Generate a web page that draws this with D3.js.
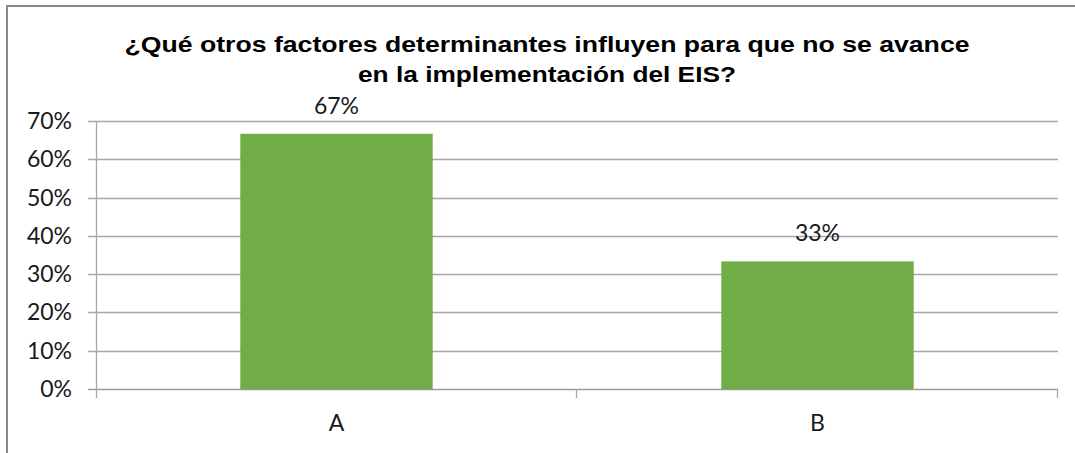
<!DOCTYPE html>
<html>
<head>
  <meta charset="utf-8">
  <script src="https://cdn.jsdelivr.net/npm/d3@7"></script>
  <style>
    body { margin: 0; background: #fff; }
    svg { display: block; }
  </style>
</head>
<body>
<script>
  // chart data
  var categories = ["A", "B"];
  var values = [0.6667, 0.3333];
  var valueLabels = ["67%", "33%"];
  var yTicks = [0, 0.1, 0.2, 0.3, 0.4, 0.5, 0.6, 0.7];
  var titleLines = ["¿Qué otros factores determinantes influyen para que no se avance",
                    "en la implementación del EIS?"];

  var W = 1075, H = 453;
  var plotLeft = 96, plotRight = 1058, plotTop = 121, plotBottom = 389;
  var labelFont = "Lato, 'Open Sans', sans-serif";

  var svg = d3.select("body").append("svg")
      .attr("width", W)
      .attr("height", H);

  // chart border (runs off the right / bottom of the picture)
  svg.append("rect")
      .attr("x", 7).attr("y", 6)
      .attr("width", W + 20).attr("height", H + 20)
      .attr("fill", "none")
      .attr("stroke", "#898989")
      .attr("stroke-width", 2);

  var x = d3.scaleBand().domain(categories).range([plotLeft, plotRight]).paddingInner(0).paddingOuter(0);
  var y = d3.scaleLinear().domain([0, 0.7]).range([plotBottom, plotTop]);

  // gridlines
  svg.append("g").selectAll("line")
      .data(yTicks)
      .enter().append("line")
      .attr("x1", plotLeft - 8).attr("x2", plotRight)
      .attr("y1", function (d) { return Math.round(y(d)) + 0.5; })
      .attr("y2", function (d) { return Math.round(y(d)) + 0.5; })
      .attr("stroke", function (d) { return d === 0 ? "#9a9a9a" : "#a6a6a6"; })
      .attr("stroke-width", 1.3);

  // y axis line
  svg.append("line")
      .attr("x1", plotLeft + 0.5).attr("x2", plotLeft + 0.5)
      .attr("y1", plotTop).attr("y2", plotBottom + 9)
      .attr("stroke", "#a6a6a6").attr("stroke-width", 1.3);

  // x category boundary ticks
  svg.append("g").selectAll("line")
      .data(categories)
      .enter().append("line")
      .attr("x1", function (d) { return Math.round(x(d) + x.bandwidth()) - 0.5; })
      .attr("x2", function (d) { return Math.round(x(d) + x.bandwidth()) - 0.5; })
      .attr("y1", plotBottom).attr("y2", plotBottom + 9)
      .attr("stroke", "#a6a6a6").attr("stroke-width", 1.3);

  // y tick labels
  svg.append("g").selectAll("text")
      .data(yTicks)
      .enter().append("text")
      .attr("x", 72)
      .attr("y", function (d) { return y(d) + 8; })
      .attr("text-anchor", "end")
      .style("font-family", labelFont)
      .style("font-size", "23px")
      .attr("fill", "#1a1a1a")
      .text(function (d) { return Math.round(d * 100) + "%"; });

  // bars
  var barW = x.bandwidth() * 0.4;
  svg.append("g").selectAll("rect")
      .data(values)
      .enter().append("rect")
      .attr("x", function (d, i) { return x(categories[i]) + (x.bandwidth() - barW) / 2; })
      .attr("y", function (d) { return y(d); })
      .attr("width", barW)
      .attr("height", function (d) { return plotBottom - y(d); })
      .attr("fill", "#70ad47");

  // value labels
  svg.append("g").selectAll("text")
      .data(values)
      .enter().append("text")
      .attr("x", function (d, i) { return x(categories[i]) + x.bandwidth() / 2; })
      .attr("y", function (d) { return y(d) - 20; })
      .attr("text-anchor", "middle")
      .style("font-family", labelFont)
      .style("font-size", "23px")
      .attr("fill", "#1a1a1a")
      .text(function (d, i) { return valueLabels[i]; });

  // category labels
  svg.append("g").selectAll("text")
      .data(categories)
      .enter().append("text")
      .attr("x", function (d) { return x(d) + x.bandwidth() / 2; })
      .attr("y", 431)
      .attr("text-anchor", "middle")
      .style("font-family", labelFont)
      .style("font-size", "23px")
      .attr("fill", "#1a1a1a")
      .text(function (d) { return d; });

  // title (the reference glyphs are stretched sideways)
  var titleWidths = [845, 378];
  svg.append("g").selectAll("text")
      .data(titleLines)
      .enter().append("text")
      .attr("x", 547)
      .attr("y", function (d, i) { return 52 + i * 30; })
      .attr("text-anchor", "middle")
      .attr("textLength", function (d, i) { return titleWidths[i]; })
      .attr("lengthAdjust", "spacingAndGlyphs")
      .style("font-family", "'Liberation Sans', Arial, sans-serif")
      .style("font-weight", "bold")
      .style("font-size", "22px")
      .attr("fill", "#000")
      .text(function (d) { return d; });
</script>
</body>
</html>
